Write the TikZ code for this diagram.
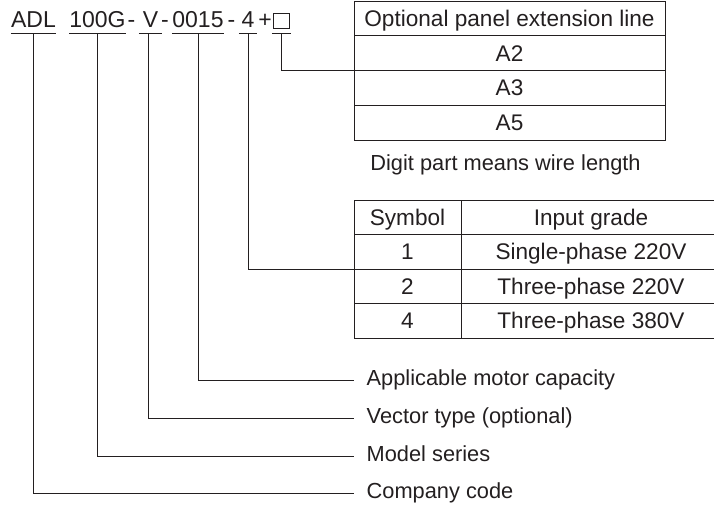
\documentclass[tikz,border=0pt]{standalone}
\usepackage{fontspec}
\setmainfont{Liberation Sans}
\usepackage{xcolor}
\usepackage{tikz}
\usetikzlibrary{positioning}
\definecolor{inkc}{HTML}{231F20}
\newcommand{\codefont}{\fontsize{23}{26}\selectfont}
\newcommand{\tabfont}{\fontsize{22.6}{25}\selectfont}
\newcommand{\lblfont}{\fontsize{21.8}{24}\selectfont}
\tikzset{
  ln/.style={line width=1pt,inkc},
  part/.style={font=\codefont,text=inkc,inner xsep=0pt,inner ysep=5pt,text height=16.5pt,text depth=0pt,anchor=south},
  cell/.style={draw=inkc,line width=1pt,font=\tabfont,text=inkc,inner sep=0pt,outer sep=0pt,text height=16pt,text depth=0pt},
  lbl/.style={font=\lblfont,text=inkc,anchor=west,inner xsep=12.5pt,inner ysep=0pt,text height=15.6pt,text depth=5pt}
}

\begin{document}
\begin{tikzpicture}[x=1pt,y=-1pt]
\clip (0,0) rectangle (714,506);
% model code
\node[part,minimum width=45pt] (adl) at (33.5,33) {ADL};
\node[part,minimum width=53pt] (grp) at (97.5,33) {100G};
\node[part] (h1) at (131.5,33) {-};
\node[part,minimum width=23pt] (vec) at (150.5,33) {V};
\node[part] (h2) at (165,33) {-};
\node[part,minimum width=52pt] (cap) at (198,33) {0015};
\node[part] (h3) at (231.5,33) {-};
\node[part,minimum width=18pt] (volt) at (248,33) {4};
\node[part] (plus) at (265,33) {+};
\node[part,minimum width=19pt] (opt) at (281.5,33) {};
\node[draw=inkc,line width=0.9pt,minimum width=16pt,minimum height=15pt,inner sep=0pt] (sq) at (281.5,20.5) {};
\foreach \n in {adl,grp,vec,cap,volt,opt} \draw[ln] (\n.south west) -- (\n.south east);
% extension line table
\node[cell,minimum width=311pt,minimum height=34.75pt] (t1) at (509.5,18.4) {Optional panel extension line};
\node[cell,minimum width=311pt,minimum height=34.75pt,below=0pt of t1] (a2) {A2};
\node[cell,minimum width=311pt,minimum height=34.75pt,below=0pt of a2] (a3) {A3};
\node[cell,minimum width=311pt,minimum height=34.75pt,below=0pt of a3] (a5) {A5};
\node[font=\lblfont,text=inkc,inner sep=0pt,text height=15.6pt,text depth=0pt,below=15pt of a5,xshift=-4pt] (note) {Digit part means wire length};
% input grade table
\node[cell,minimum width=107pt,minimum height=34.5pt] (s0) at (407.5,217.25) {Symbol};
\node[cell,minimum width=260pt,minimum height=34.5pt,right=0pt of s0] (g0) {Input grade};
\foreach \s/\g [count=\i,remember=\i as \j (initially 0)] in {1/Single-phase 220V,2/Three-phase 220V,4/Three-phase 380V}{
  \node[cell,minimum width=107pt,minimum height=34.5pt,below=0pt of s\j] (s\i) {\s};
  \node[cell,minimum width=260pt,minimum height=34.5pt,right=0pt of s\i] (g\i) {\g};
}
% meanings
\node[lbl] (mcap) at (354,380) {Applicable motor capacity};
\node[lbl] (vtype) at (354,418) {Vector type (optional)};
\node[lbl] (ser) at (354,456) {Model series};
\node[lbl] (comp) at (354,493) {Company code};
\draw[ln] (opt.south) |- (a2.south west);
\draw[ln] (volt.south) |- (s1.south west);
\draw[ln] (cap.south) |- (mcap.west);
\draw[ln] ([xshift=-2.5pt]vec.south) |- (vtype.west);
\draw[ln] (grp.south) |- (ser.west);
\draw[ln] (adl.south) |- (comp.west);
\end{tikzpicture}
\end{document}
